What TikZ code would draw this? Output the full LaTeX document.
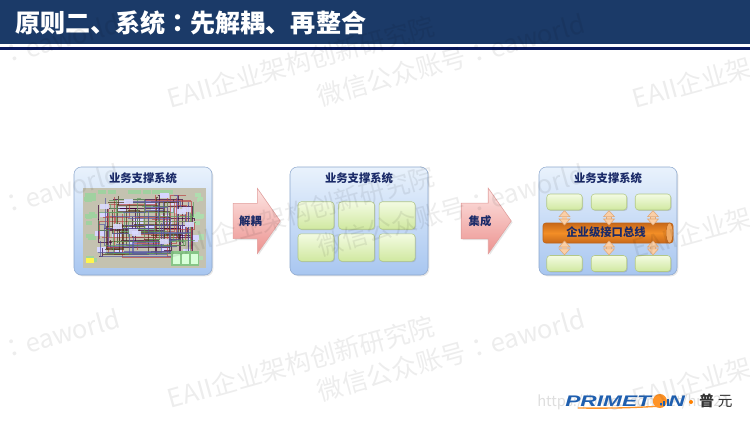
\documentclass[tikz,border=0pt]{standalone}
\usepackage{fontspec}
\setmainfont{Noto Sans CJK SC}
\newfontfamily\colonfont{Noto Sans CJK TC}
\newfontfamily\logofont[FakeStretch=1.48]{Liberation Sans}
\usetikzlibrary{positioning,arrows.meta,shadows,shapes.arrows,shapes.geometric}
\definecolor{barblue}{HTML}{1B3A68}
\definecolor{linenavy}{HTML}{0B1B5E}
\definecolor{labelnavy}{HTML}{1A2A68}
\definecolor{peach}{HTML}{FBCFA6}
\definecolor{peachedge}{HTML}{E0A878}
\definecolor{logoblue}{HTML}{1F5FAF}
\tikzset{
    panel/.style = {
        draw={rgb,255:red,140;green,167;blue,205},
        rounded corners=5.5,
        minimum width=138*0.75pt,
        minimum height=108*0.75pt,
        top color={rgb,255:red,233;green,242;blue,252},
        bottom color={rgb,255:red,168;green,198;blue,240},
        drop shadow={shadow xshift=1pt,shadow yshift=-1pt,opacity=0.2},
    },
    panel title/.style = {
        font=\fontsize{8.5pt}{10pt}\selectfont\bfseries,
        text=labelnavy,
        inner sep=0pt,
    },
    green box/.style = {
        draw={rgb,255:red,178;green,200;blue,135},
        rounded corners=2.5,
        top color={rgb,255:red,243;green,251;blue,226},
        bottom color={rgb,255:red,208;green,232;blue,160},
        drop shadow={shadow xshift=0.7pt,shadow yshift=-0.7pt,opacity=0.3},
        inner sep=0pt,
    },
    big box/.style = {
        green box,
        minimum width=36*0.75pt,
        minimum height=27.5*0.75pt,
    },
    flat box/.style = {
        green box,
        minimum width=35.5*0.75pt,
        minimum height=16*0.75pt,
    },
    fat arrow/.style = {
        shape=single arrow,
        draw={rgb,255:red,226;green,158;blue,156},
        top color={rgb,255:red,253;green,229;blue,227},
        bottom color={rgb,255:red,236;green,146;blue,143},
        single arrow head extend=15*0.75pt,
        single arrow tip angle=110,
        inner ysep=12*0.75pt,
        inner xsep=2pt,
        font=\fontsize{8.5pt}{10pt}\selectfont\bfseries,
        text=labelnavy,
        drop shadow={shadow xshift=1pt,shadow yshift=-1pt,opacity=0.2},
    },
    link/.style = {
        {Triangle[length=5pt,width=9pt,fill=peach,line width=0.4pt]}-{Triangle[length=5pt,width=9pt,fill=peach,line width=0.4pt]},
        draw=peachedge,
        line width=0.4pt,
        double=peach,
        double distance=3.2pt,
    },
    wmark/.style = {
        rotate=15.5,
        text=black,
        opacity=0.07,
        font=\fontsize{19.2pt}{19pt}\selectfont,
        inner sep=0pt,
    },
}
\begin{document}
\begin{tikzpicture}[x=0.75pt,y=-0.75pt,node distance=3pt]
    \useasboundingbox (0,0) rectangle (750,421);

    % title bar
    \fill[barblue] (0,0) rectangle (750,43.5);
    \fill[linenavy] (0,47) rectangle (750,50);
    \node[anchor=west,text=white,inner sep=0pt,font=\fontsize{18.8pt}{20pt}\selectfont\bfseries] (title) at (15,23) {原则二、系统{\colonfont ：}先解耦、再整合};

    % the three panels
    \node[panel] (panel1) at (143,221) {};
    \node[panel] (panel2) at (359,221) {};
    \node[panel] (panel3) at (608,221) {};
    \node[panel title] (title1) at (143,178) {业务支撑系统};
    \node[panel title] (title2) at (359,178) {业务支撑系统};
    \node[panel title] (title3) at (608,178) {业务支撑系统};

    % tangled map in panel 1
    \node[fill={rgb,255:red,196;green,194;blue,176},minimum width=123*0.75pt,minimum height=80*0.75pt,inner sep=0pt] (tangle) at (144.5,228) {};
    \begin{scope}
        \clip (tangle.south west) rectangle (tangle.north east);
        \pgfmathsetseed{7}
        % small boxes round the edge
        \foreach \i in {1,...,13} {
            \pgfmathsetmacro{\bx}{144+rand*52}
            \fill[green!35!gray!55] (\bx-4,190) rectangle (\bx+4,194);
            \pgfmathsetmacro{\dy}{228+rand*34}
            \fill[green!35!gray!55] (87+rand*3,\dy-2) rectangle (94+rand*3,\dy+2);
            \fill[green!40!gray!45] (195+rand*3,\dy-2) rectangle (202+rand*3,\dy+2);
        }
        \foreach \i in {1,...,26} {
            \pgfmathsetmacro{\bx}{146+rand*50}
            \pgfmathsetmacro{\by}{224+rand*31}
            \fill[blue!16!white] (\bx-4.5,\by-2.5) rectangle (\bx+4.5,\by+2.5);
        }
        \foreach \c/\w in {violet!45!black/0.5,red!45!gray/0.45,black!60!brown/0.55,green!25!gray/0.4,blue!30!gray/0.4} {
            \foreach \i in {1,...,24} {
                \pgfmathsetmacro{\ax}{146+rand*50}
                \pgfmathsetmacro{\ay}{226+rand*31}
                \pgfmathsetmacro{\cx}{146+rand*50}
                \pgfmathsetmacro{\cy}{226+rand*31}
                \draw[\c,line width=\w pt,opacity=0.7] (\ax,\ay) -| (\cx,\cy);
            }
        }
        \foreach \i in {1,...,9} {
            \pgfmathsetmacro{\bx}{146+rand*46}
            \pgfmathsetmacro{\by}{224+rand*28}
            \fill[blue!14!white,opacity=0.9] (\bx-4.5,\by-2.5) rectangle (\bx+4.5,\by+2.5);
        }
        \fill[green!35!gray!70] (171,251) rectangle (199,266);
        \foreach \x in {173,182,191} {
            \fill[green!15!white] (\x,253.5) rectangle (\x+7,263.5);
        }
        \fill[yellow!70!white] (86,258) rectangle (94,263);
    \end{scope}

    % arrows between the panels
    \node[fat arrow,minimum height=47*0.75pt] (split) at (250.5,221) {解耦};
    \node[fat arrow,minimum height=50*0.75pt] (join) at (480,221) {集成};

    % boxes in panel 2
    \node[big box] (b1) at (316,215.5) {};
    \node[big box,right=of b1] (b2) {};
    \node[big box,right=of b2] (b3) {};
    \node[big box,below=of b1] (b4) {};
    \node[big box,below=of b2] (b5) {};
    \node[big box,below=of b3] (b6) {};

    % bus and boxes in panel 3
    \node[draw={rgb,255:red,190;green,100;blue,25},rounded corners=2,minimum width=130*0.75pt,minimum height=20*0.75pt,inner sep=0pt,
        top color={rgb,255:red,200;green,105;blue,26},bottom color={rgb,255:red,200;green,105;blue,26},middle color={rgb,255:red,243;green,142;blue,38}] (bus) at (608,233) {};
    \node[ellipse,draw={rgb,255:red,190;green,100;blue,25},fill={rgb,255:red,241;green,170;blue,100},minimum width=7*0.75pt,minimum height=20*0.75pt,inner sep=0pt,left=0pt of bus.east] (busend) {};
    \node[panel title] (buslabel) at (606,232.5) {企业级接口总线};
    \node[flat box] (t1) at (564.5,202) {};
    \node[flat box] (t2) at (609,202) {};
    \node[flat box] (t3) at (653,202) {};
    \node[flat box] (d1) at (564.5,263.5) {};
    \node[flat box] (d2) at (609,263.5) {};
    \node[flat box] (d3) at (653,263.5) {};
    \foreach \a/\b in {t1/d1,t2/d2,t3/d3} {
        \draw[link] (\a.south) -- ([yshift=-2pt]\a.south |- bus.north);
        \draw[link] (\b.north) -- ([yshift=2pt]\b.north |- bus.south);
    }

    % address under the logo
    \node[anchor=west,inner sep=0pt,text=black!13,font=\fontsize{11pt}{12pt}\selectfont] (url) at (537,402) {https://blog.csdn.net/hu921};

    % logo
    \node[anchor=west,inner sep=0pt,text=logoblue,font=\logofont\fontsize{11.5pt}{12pt}\selectfont\bfseries\itshape] (logo) at (565,401) {PRIMET};
    \node[circle,fill=orange!85,minimum size=14*0.75pt,inner sep=0pt,right=1pt of logo] (globe) {};
    \foreach \dx/\h in {0/2,2.6/3.4,5.2/4.6} {
        \fill[logoblue] ([xshift=\dx pt,yshift=-3.4pt]globe.center) rectangle ++(1.6pt,\h pt);
    }
    \node[inner sep=0pt,text=logoblue,right=1pt of globe,font=\logofont\fontsize{11.5pt}{12pt}\selectfont\bfseries\itshape] (logoend) {N};
    \draw[orange!85,line width=1pt] (578,408) to[bend right=2] (663,406);
    \node[circle,fill=orange,minimum size=4*0.75pt,inner sep=0pt] (dot) at (691,402) {};
    \node[anchor=west,inner sep=0pt,text=black!80,font=\fontsize{11pt}{12pt}\selectfont\bfseries] (logocn) at (699,401) {普\hspace{3pt}\mdseries 元};

    % watermarks
    \foreach \y/\z [count=\n] in {62/60,212/210,362/355} {
        \node[wmark] (wa\n) at (301,\y) {EAII企业架构创新研究院};
        \node[wmark] (wd\n) at (766,\y) {EAII企业架构创新研究院};
        \node[wmark] (wb\n) at (451,\z) {微信公众账号{\colonfont ：}eaworld};
        \node[wmark] (wc\n) at (-14,\z) {微信公众账号{\colonfont ：}eaworld};
    }
\end{tikzpicture}
\end{document}
